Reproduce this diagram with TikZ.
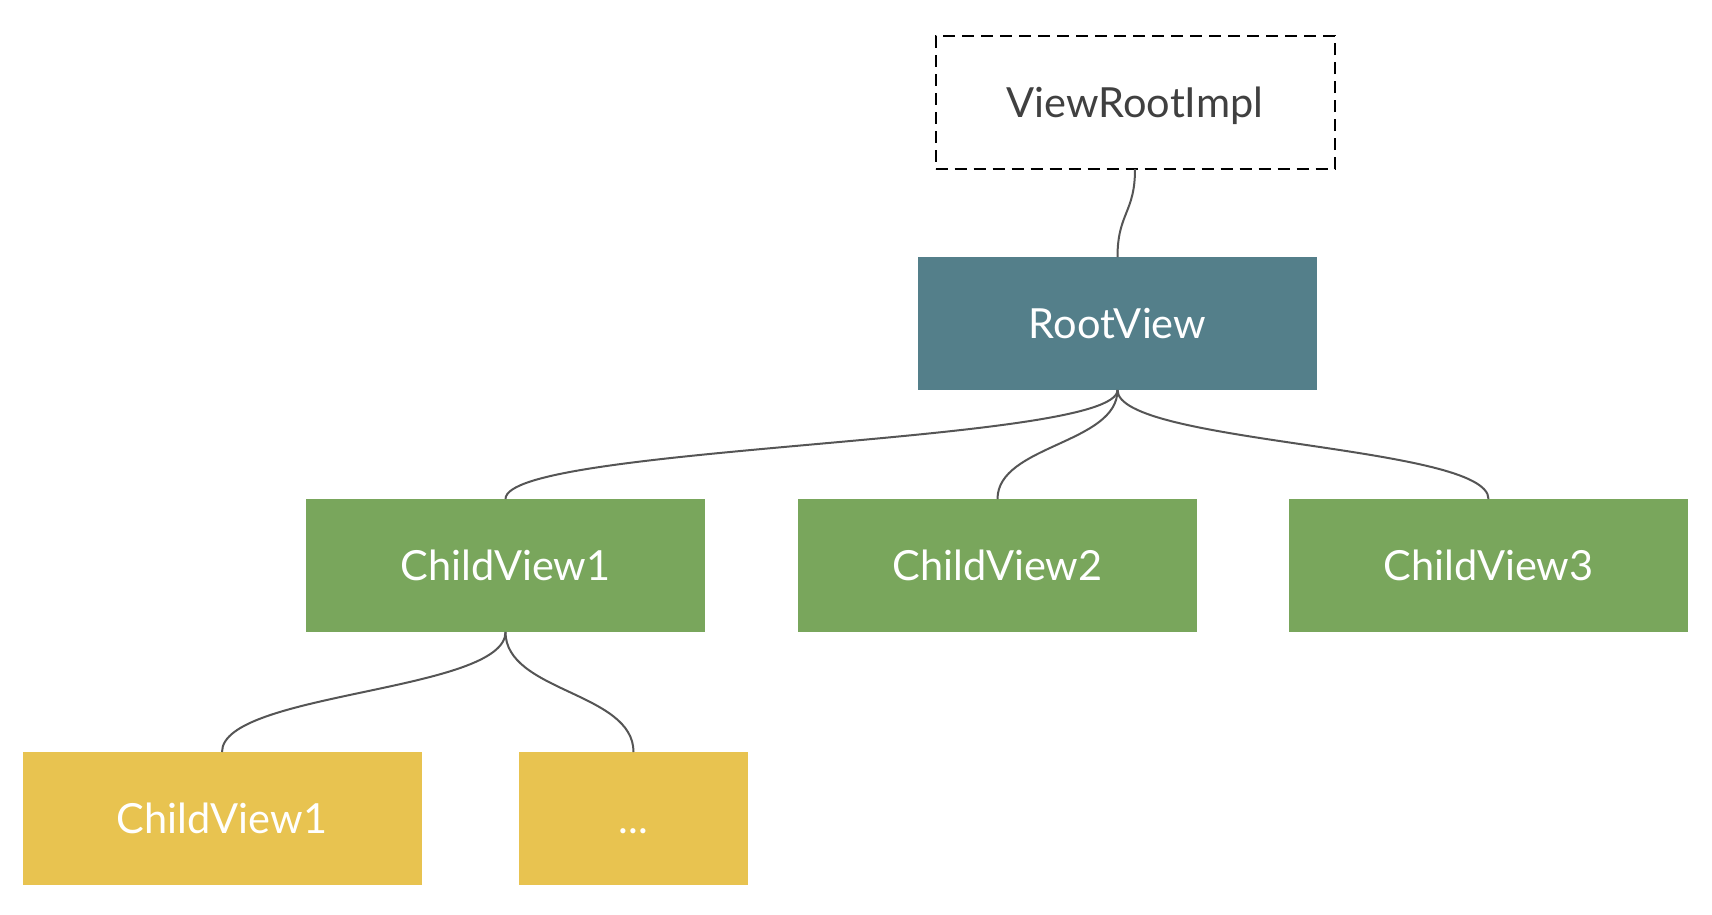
\documentclass[tikz,border=0pt]{standalone}
\usepackage{fontspec}
\setmainfont{Lato}
\definecolor{rootc}{HTML}{547F8A}
\definecolor{greenc}{HTML}{79A65C}
\definecolor{yellowc}{HTML}{E8C350}
\definecolor{linec}{HTML}{555555}
\definecolor{txtc}{HTML}{404040}
\begin{document}
\begin{tikzpicture}[x=1pt,y=-1pt,
  box/.style={minimum width=399pt, minimum height=133pt, inner sep=0pt, outer sep=0pt,
    text height=29.5pt, text depth=0pt,
    font=\fontsize{41.5}{46}\selectfont, text=white},
  rootbox/.style={box, fill=rootc},
  greenbox/.style={box, fill=greenc},
  yellowbox/.style={box, fill=yellowc},
  dashbox/.style={box, text=txtc, draw=black, line width=2pt, dash pattern=on 12pt off 7pt},
  conn/.style={draw=linec, line width=2pt}]
\useasboundingbox (0,0) rectangle (1712,914);
\node[dashbox] (vri) at (1135,102.5) {ViewRootImpl};
\node[rootbox] (rv) at (1117.5,323.5) {RootView};
\node[greenbox] (c1) at (505.5,565.5) {ChildView1};
\node[greenbox] (c2) at (997.5,565.5) {ChildView2};
\node[greenbox] (c3) at (1488.5,565.5) {ChildView3};
\node[yellowbox] (g1) at (222,818.5) {ChildView1};
\node[yellowbox, minimum width=229pt] (g2) at (633.5,818.5) {...};
\draw[conn] (vri.south) .. controls +(0,44) and +(0,-44) .. (rv.north);
\draw[conn] (rv.south) .. controls +(0,54) and +(0,-54) .. (c1.north);
\draw[conn] (rv.south) .. controls +(0,54) and +(0,-54) .. (c2.north);
\draw[conn] (rv.south) .. controls +(0,54) and +(0,-54) .. (c3.north);
\draw[conn] (c1.south) .. controls +(0,60) and +(0,-60) .. (g1.north);
\draw[conn] (c1.south) .. controls +(0,60) and +(0,-60) .. (g2.north);
\end{tikzpicture}
\end{document}
